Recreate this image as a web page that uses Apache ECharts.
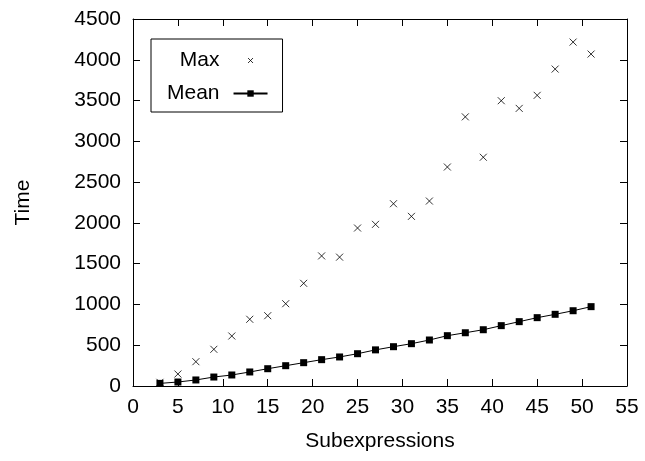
<!DOCTYPE html>
<html>
<head>
<meta charset="utf-8">
<script src="https://cdn.jsdelivr.net/npm/echarts@6/dist/echarts.min.js"></script>
<style>
  html, body { margin: 0; padding: 0; background: #fff; }
  #chart { width: 645px; height: 461px; }
</style>
</head>
<body>
<div id="chart"></div>
<script>
// subexpression counts on the x axis
const subexpr = [3, 5, 7, 9, 11, 13, 15, 17, 19, 21, 23, 25, 27, 29, 31, 33, 35, 37, 39, 41, 43, 45, 47, 49, 51];
// max time per count
const maxTime = [45, 147, 298, 450, 613, 818, 862, 1009, 1259, 1595, 1580, 1937, 1982, 2235, 2080, 2268, 2685, 3300, 2805, 3498, 3404, 3564, 3886, 4217, 4070];
// mean time per count
const meanTime = [32, 49, 74, 110, 135, 172, 212, 249, 286, 323, 356, 396, 443, 482, 519, 564, 617, 653, 690, 740, 789, 838, 879, 923, 973];

const FONT = 'Liberation Sans';
const FS = 21;

const crossPath = 'path://M0,0L10,10M10,0L0,10';
const crossLegend = 'path://M0,0M34,8M14.5,1.5L19.5,6.5M19.5,1.5L14.5,6.5';

const chart = echarts.init(document.getElementById('chart'));

const baseX = {
    type: 'value', min: 0, max: 55, interval: 5,
    axisLine: { show: true, onZero: false, lineStyle: { color: '#000', width: 1 } },
    axisTick: { show: true, inside: true, length: 7, lineStyle: { color: '#000' } },
    splitLine: { show: false }
};
const baseY = {
    type: 'value', min: 0, max: 4500, interval: 500,
    axisLine: { show: true, onZero: false, lineStyle: { color: '#000', width: 1 } },
    axisTick: { show: true, inside: true, length: 7, lineStyle: { color: '#000' } },
    splitLine: { show: false }
};

const option = {
    backgroundColor: '#fff',
    animation: false,
    textStyle: { fontFamily: FONT, color: '#000' },
    grid: { left: 133, right: 18, top: 19, bottom: 75, containLabel: false },
    legend: {
        orient: 'vertical',
        left: 151, top: 39,
        align: 'right',
        itemWidth: 34, itemHeight: 8,
        itemGap: 12,
        padding: [11, 14, 8, 16],
        borderColor: '#000', borderWidth: 1,
        textStyle: { fontFamily: FONT, fontSize: FS, color: '#000', padding: [0, 9, 0, 0] },
        data: [
            { name: 'Max', icon: crossLegend, itemStyle: { color: 'transparent', borderColor: '#000', borderWidth: 1 } },
            { name: 'Mean' }
        ]
    },
    xAxis: [
        Object.assign({}, baseX, {
            position: 'bottom',
            name: 'Subexpressions', nameLocation: 'middle', nameGap: 45,
            nameTextStyle: { fontFamily: FONT, fontSize: FS, color: '#000' },
            axisLabel: { fontFamily: FONT, fontSize: FS, color: '#000', margin: 11 }
        }),
        Object.assign({}, baseX, { position: 'top', axisLabel: { show: false } })
    ],
    yAxis: [
        Object.assign({}, baseY, {
            position: 'left',
            name: 'Time', nameLocation: 'middle', nameGap: 99, nameRotate: 90,
            nameTextStyle: { fontFamily: FONT, fontSize: FS, color: '#000' },
            axisLabel: { fontFamily: FONT, fontSize: FS, color: '#000', margin: 12, formatter: v => String(v) }
        }),
        Object.assign({}, baseY, { position: 'right', axisLabel: { show: false } })
    ],
    series: [
        {
            name: 'Max',
            type: 'scatter',
            symbol: crossPath,
            symbolSize: 7,
            itemStyle: { color: 'transparent', borderColor: '#000', borderWidth: 1 },
            data: subexpr.map((x, i) => [x, maxTime[i]]),
            z: 2
        },
        {
            name: 'Mean',
            type: 'line',
            symbol: 'rect',
            symbolSize: 7,
            showAllSymbol: true,
            itemStyle: { color: '#000' },
            lineStyle: { color: '#000', width: 1 },
            data: subexpr.map((x, i) => [x, meanTime[i]]),
            z: 3
        }
    ]
};

chart.setOption(option);
</script>
</body>
</html>
